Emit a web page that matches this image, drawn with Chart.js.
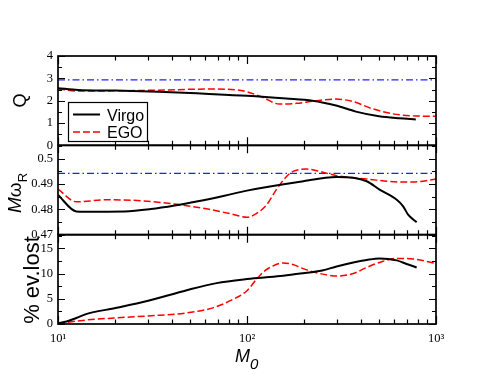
<!DOCTYPE html>
<html>
<head>
<meta charset="utf-8">
<script src="https://cdn.jsdelivr.net/npm/chart.js@4/dist/chart.umd.min.js"></script>
<style>
html,body{margin:0;padding:0;background:#fff;}
#wrap{width:494px;height:382px;position:relative;}
</style>
</head>
<body>
<div id="wrap"><canvas id="c" width="494" height="382"></canvas></div>
<script>
// ---------- data ----------
const xTickValues = [10, 100, 1000];
const xTickLabels = ['10\u00B9', '10\u00B2', '10\u00B3'];

const qTicks = [0, 1, 2, 3, 4];
const mwTicks = [0.47, 0.48, 0.49, 0.5];
const mwTickLabels = ['0.47', '0.48', '0.49', '0.5'];
const lostTicks = [0, 5, 10, 15];

const seriesNames = ['Virgo', 'EGO'];

// Q panel
const virgoQMass = [10, 12.8, 20, 33.8, 60, 100, 161, 222, 296, 377, 500, 640, 782];
const virgoQ     = [2.56, 2.48, 2.45, 2.40, 2.31, 2.22, 2.10, 2.00, 1.78, 1.51, 1.30, 1.21, 1.16];
const egoQMass   = [10, 12.8, 20, 33.8, 62, 89, 100, 121, 148, 183, 232, 296, 363, 464, 590, 755, 1000];
const egoQ       = [2.52, 2.43, 2.44, 2.47, 2.52, 2.48, 2.40, 2.15, 1.85, 1.88, 2.00, 2.07, 1.96, 1.63, 1.41, 1.32, 1.30];
const refQ = 2.93;

// M omega_R panel
const virgoMwMass = [10, 12.5, 13.8, 22.5, 31, 41.5, 55, 76, 100, 191, 298, 365, 430, 503, 620, 670, 712, 790];
const virgoMw     = [0.4857, 0.4792, 0.4791, 0.4792, 0.4801, 0.4815, 0.4832, 0.4854, 0.4874, 0.4909, 0.4928, 0.4925, 0.4911, 0.4878, 0.4838, 0.4812, 0.4779, 0.4749];
const egoMwMass   = [10, 12.5, 18.4, 27.6, 41.5, 62, 82.5, 100, 112, 127, 143, 162, 175, 207, 243, 298, 430, 645, 755, 1000];
const egoMw       = [0.4880, 0.4830, 0.4838, 0.4834, 0.4821, 0.4801, 0.4782, 0.4769, 0.4783, 0.4818, 0.4878, 0.4930, 0.4950, 0.4959, 0.4950, 0.4933, 0.4920, 0.4908, 0.4908, 0.4920];
const refMw = 0.4942;

// % events lost panel
const virgoLostMass = [10, 11.1, 12.5, 14.2, 20.4, 30, 48, 69, 100, 150, 191, 250, 298, 365, 430, 503, 560, 620, 700, 790];
const virgoLost     = [0.15, 0.5, 1.2, 2.0, 3.2, 4.6, 6.7, 8.1, 8.9, 9.5, 10.0, 10.6, 11.4, 12.2, 12.7, 13.0, 12.9, 12.6, 11.9, 11.2];
const egoLostMass   = [10, 14.2, 20, 30, 48, 66, 84.5, 100, 112, 122, 132, 155, 175, 191, 220, 243, 298, 365, 430, 503, 620, 755, 1000];
const egoLost       = [0.1, 0.8, 1.2, 1.6, 2.2, 3.2, 4.9, 6.6, 8.8, 10.3, 11.2, 12.1, 11.8, 11.2, 10.4, 10.0, 9.5, 10.0, 11.2, 12.2, 13.0, 12.9, 12.0];

const refMass = [10, 1000];

// ---------- helpers ----------
const pts = (xs, ys) => xs.map((x, i) => ({x: x, y: ys[i]}));
const BLACK = '#000000', RED = '#ff0000', BLUE = '#2020ff';
const SERIF = "'Liberation Serif', 'DejaVu Serif', serif";
const SANS = "'Liberation Sans', Arial, sans-serif";

function lineDS(label, data, yID, color, dash, width) {
  return {
    label: label, data: data, yAxisID: yID,
    borderColor: color, backgroundColor: color,
    borderWidth: width, borderDash: dash || [],
    pointRadius: 0, pointHoverRadius: 0, fill: false,
    cubicInterpolationMode: 'monotone'
  };
}

const datasets = [
  lineDS(seriesNames[0], pts(virgoQMass, virgoQ), 'yQ', BLACK, [], 2),
  lineDS(seriesNames[1], pts(egoQMass, egoQ), 'yQ', RED, [7, 3], 1.5),
  lineDS('refQ', pts(refMass, [refQ, refQ]), 'yQ', BLUE, [7, 3, 1.5, 3], 1.3),
  lineDS(seriesNames[0], pts(virgoMwMass, virgoMw), 'yMw', BLACK, [], 2),
  lineDS(seriesNames[1], pts(egoMwMass, egoMw), 'yMw', RED, [7, 3], 1.5),
  lineDS('refMw', pts(refMass, [refMw, refMw]), 'yMw', BLUE, [7, 3, 1.5, 3], 1.3),
  lineDS(seriesNames[0], pts(virgoLostMass, virgoLost), 'yLost', BLACK, [], 2),
  lineDS(seriesNames[1], pts(egoLostMass, egoLost), 'yLost', RED, [7, 3], 1.5)
];

function yAxis(min, max, tickVals, tickLabels) {
  return {
    type: 'linear', position: 'left', stack: 'panels', stackWeight: 1,
    min: min, max: max,
    grid: {display: false, drawTicks: false},
    border: {display: false},
    afterBuildTicks: s => { s.ticks = tickVals.map(v => ({value: v})); },
    afterFit: s => { s.width = 58; },
    ticks: {
      autoSkip: false, padding: 5, color: BLACK,
      font: {family: SERIF, size: 12.5},
      callback: (v, i) => tickLabels ? tickLabels[i] : String(v)
    },
    _ticks: tickVals
  };
}

// ---------- custom drawing: frames, inward ticks, titles, legend ----------
const framePlugin = {
  id: 'frames',
  afterDraw(chart) {
    const ctx = chart.ctx;
    const xs = chart.scales.x;
    const left = chart.chartArea.left, right = chart.chartArea.right;
    const panels = ['yQ', 'yMw', 'yLost'];
    const minorX = [];
    for (let d = 10; d < 1000; d *= 10) for (let k = 2; k <= 9; k++) minorX.push(d * k);
    ctx.save();
    ctx.strokeStyle = BLACK;
    panels.forEach(id => {
      const s = chart.scales[id];
      const top = s.top, bot = s.bottom;
      const tv = chart.options.scales[id]._ticks;
      const step = tv[1] - tv[0];
      ctx.lineWidth = 1.2;
      ctx.beginPath();
      // y ticks (major + minor) on both sides
      for (let v = tv[0] - step; v <= s.max + 1e-9; v += step / 2) {
        if (v < s.min - 1e-9) continue;
        const major = Math.abs(Math.round((v - tv[0]) / step) * step - (v - tv[0])) < 1e-9;
        const len = major ? 7 : 4;
        const y = Math.round(s.getPixelForValue(v)) + 0.5;
        ctx.moveTo(left, y); ctx.lineTo(left + len, y);
        ctx.moveTo(right, y); ctx.lineTo(right - len, y);
      }
      // x ticks at top and bottom of each panel
      xTickValues.forEach(v => {
        const x = Math.round(xs.getPixelForValue(v)) + 0.5;
        ctx.moveTo(x, top); ctx.lineTo(x, top + 8);
        ctx.moveTo(x, bot); ctx.lineTo(x, bot - 8);
      });
      minorX.forEach(v => {
        const x = Math.round(xs.getPixelForValue(v)) + 0.5;
        ctx.moveTo(x, top); ctx.lineTo(x, top + 4.5);
        ctx.moveTo(x, bot); ctx.lineTo(x, bot - 4.5);
      });
      ctx.stroke();
      ctx.lineWidth = 1.7;
      ctx.strokeRect(left, top, right - left, bot - top);
    });

    // legend
    const lx = 68.5, ly = 102.5, lw = 79, lh = 39;
    ctx.fillStyle = '#fff';
    ctx.fillRect(lx, ly, lw, lh);
    ctx.lineWidth = 1.2;
    ctx.strokeRect(lx, ly, lw, lh);
    ctx.lineWidth = 2; ctx.setLineDash([]); ctx.strokeStyle = BLACK;
    ctx.beginPath(); ctx.moveTo(73, 114.5); ctx.lineTo(100, 114.5); ctx.stroke();
    ctx.lineWidth = 1.5; ctx.setLineDash([7, 3]); ctx.strokeStyle = RED;
    ctx.beginPath(); ctx.moveTo(73, 132); ctx.lineTo(100, 132); ctx.stroke();
    ctx.setLineDash([]);
    ctx.fillStyle = BLACK;
    ctx.font = '16px ' + SANS;
    ctx.textAlign = 'left'; ctx.textBaseline = 'alphabetic';
    ctx.fillText(chart.data.datasets[0].label, 107, 120.5);
    ctx.fillText(chart.data.datasets[1].label, 107, 138);

    // rotated y titles
    function rotText(cx, cy, parts) {
      ctx.save();
      ctx.translate(cx, cy);
      ctx.rotate(-Math.PI / 2);
      ctx.textAlign = 'left'; ctx.textBaseline = 'alphabetic';
      let total = 0;
      parts.forEach(p => { ctx.font = p.font; p.w = ctx.measureText(p.text).width; total += p.w; });
      let x = -total / 2;
      parts.forEach(p => { ctx.font = p.font; ctx.fillText(p.text, x, p.dy || 0); x += p.w; });
      ctx.restore();
    }
    ctx.fillStyle = BLACK;
    rotText(25.5, 100.5, [{text: 'Q', font: '18px ' + SANS}]);
    rotText(21, 193, [
      {text: 'M', font: 'italic 19px ' + SANS},
      {text: '\u03C9', font: '19px ' + SANS},
      {text: 'R', font: '13px ' + SANS, dy: 6}
    ]);
    rotText(39, 280, [{text: '% ev.lost', font: '22px ' + SANS}]);

    // x title
    ctx.textAlign = 'left'; ctx.textBaseline = 'alphabetic';
    ctx.font = 'italic 18px ' + SANS;
    ctx.fillText('M', 235, 362);
    ctx.font = 'italic 15px ' + SANS;
    ctx.fillText('0', 250, 368.5);
    ctx.restore();
  }
};

new Chart(document.getElementById('c'), {
  type: 'line',
  data: {datasets: datasets},
  options: {
    responsive: false,
    animation: false,
    events: [],
    layout: {padding: {top: 56, right: 58, left: 0, bottom: 0}},
    plugins: {legend: {display: false}, tooltip: {enabled: false}, title: {display: false}},
    scales: {
      x: {
        type: 'logarithmic', position: 'bottom', min: 10, max: 1000,
        grid: {display: false, drawTicks: false},
        border: {display: false},
        afterBuildTicks: s => { s.ticks = xTickValues.map(v => ({value: v})); },
        afterFit: s => { s.height = 58; },
        ticks: {
          autoSkip: false, maxRotation: 0, padding: 7, color: BLACK,
          font: {family: SERIF, size: 12.5},
          callback: (v, i) => xTickLabels[i]
        }
      },
      yLost: yAxis(0, 17.7, lostTicks, null),
      yMw: yAxis(0.47, 0.5053, mwTicks, mwTickLabels),
      yQ: yAxis(0, 4, qTicks, null)
    }
  },
  plugins: [framePlugin]
});
</script>
</body>
</html>
